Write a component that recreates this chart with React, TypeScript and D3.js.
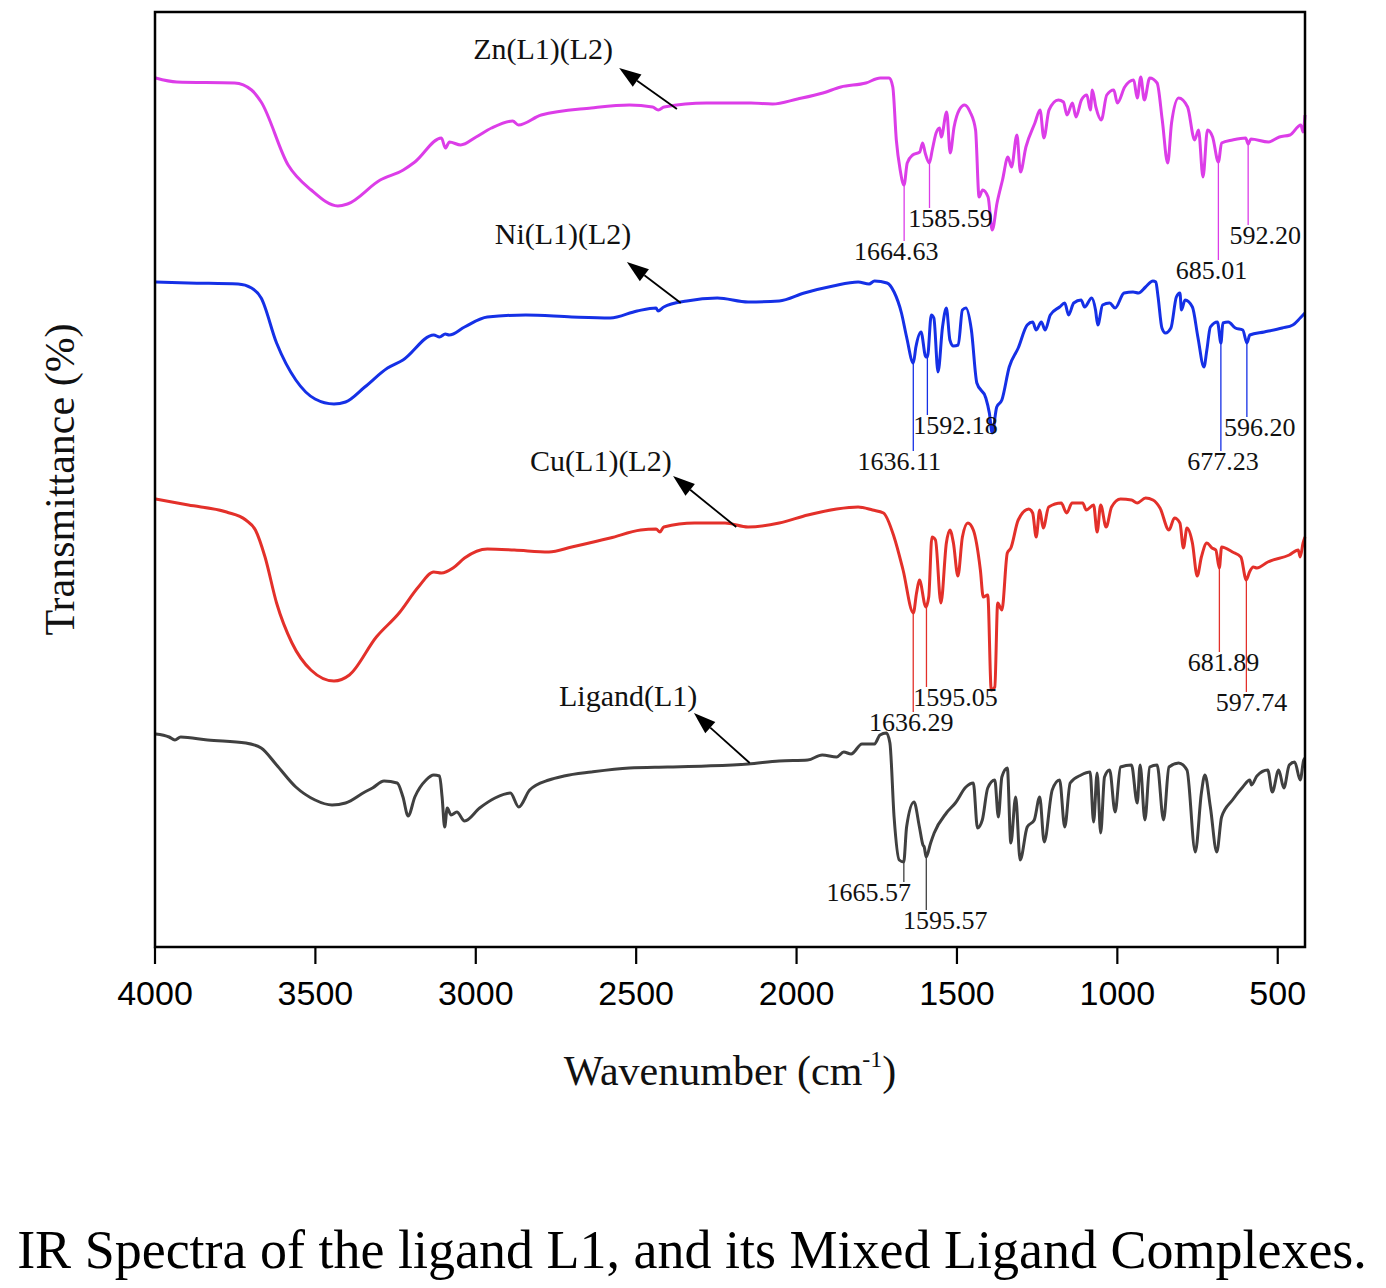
import React, { useEffect } from "react";
import * as d3 from "d3";

// ---- Data (wavenumber cm-1, transmittance in offset arbitrary % units) ----
const znSpectrum: [number, number][] = [[3998,86.9],[3932,86.5],[3752,86.4],[3699,85.7],[3669,84.5],[3585,78.2],[3513,75.7],[3430,74.1],[3400,74.3],[3298,76.7],[3226,77.7],[3190,78.5],[3107,80.9],[3095,79.9],[3082,80.5],[3047,80.2],[2999,81.0],[2951,81.9],[2885,82.6],[2867,82.2],[2796,83.2],[2640,83.9],[2521,84.2],[2449,84.0],[2431,83.7],[2413,84.0],[2281,84.4],[2142,84.4],[2075,84.3],[1997,84.8],[1918,85.4],[1862,86.0],[1784,86.4],[1739,86.9],[1711,86.9],[1700,86.0],[1689,80.7],[1677,77.7],[1665,76.2],[1655,78.4],[1638,79.2],[1616,79.5],[1607,80.4],[1599,79.4],[1586,78.4],[1577,79.7],[1565,81.4],[1554,81.9],[1549,81.0],[1532,83.5],[1521,79.4],[1509,82.0],[1493,83.7],[1476,84.2],[1459,83.5],[1442,81.7],[1431,75.0],[1420,75.7],[1403,75.0],[1390,71.7],[1375,74.4],[1358,76.7],[1341,79.0],[1330,78.0],[1313,81.2],[1302,77.5],[1285,80.0],[1257,82.4],[1241,83.7],[1229,80.9],[1213,83.7],[1184,84.7],[1168,84.5],[1157,83.2],[1140,84.4],[1129,83.0],[1112,84.7],[1095,85.2],[1084,83.7],[1078,85.7],[1067,84.0],[1050,82.7],[1033,85.2],[1011,85.7],[1000,84.4],[977,86.0],[949,86.7],[938,84.9],[927,87.0],[916,84.7],[899,86.9],[876,86.4],[860,82.7],[843,78.4],[831,82.4],[809,84.9],[781,84.0],[759,80.7],[747,81.7],[733,77.0],[719,81.7],[703,81.0],[685,78.5],[675,80.4],[641,80.7],[600,80.9],[592,80.3],[584,80.8],[529,80.5],[495,81.0],[462,81.2],[428,82.2],[421,81.5],[415,83.2]];

const niSpectrum: [number, number][] = [[3998,66.5],[3896,66.4],[3741,66.3],[3699,65.9],[3669,64.9],[3621,60.4],[3561,56.7],[3501,54.8],[3442,54.3],[3406,54.5],[3346,56.0],[3275,57.9],[3227,58.7],[3131,61.2],[3113,61.0],[3095,61.3],[3083,61.2],[3035,62.0],[2964,63.0],[2844,63.2],[2701,63.0],[2581,62.9],[2497,63.6],[2438,63.9],[2432,63.6],[2414,64.0],[2342,64.6],[2247,64.9],[2151,64.5],[2054,64.6],[1976,65.4],[1886,66.1],[1808,66.5],[1774,66.3],[1757,66.6],[1718,66.4],[1696,65.5],[1673,63.4],[1657,61.0],[1636,58.4],[1628,60.0],[1612,61.5],[1597,59.0],[1592,59.0],[1580,63.2],[1572,62.9],[1559,57.5],[1545,62.0],[1533,63.9],[1522,60.7],[1511,60.1],[1496,60.2],[1483,63.7],[1472,63.9],[1455,61.7],[1438,56.4],[1410,54.9],[1399,53.4],[1390,51.4],[1376,54.0],[1360,54.7],[1337,58.0],[1309,59.9],[1281,62.2],[1264,62.5],[1253,61.7],[1237,62.5],[1225,61.7],[1209,63.2],[1180,64.0],[1164,64.4],[1152,63.2],[1136,64.4],[1113,64.7],[1102,64.0],[1080,64.9],[1068,63.7],[1061,62.2],[1046,64.2],[1024,64.4],[1007,63.9],[979,65.4],[951,65.5],[934,65.4],[912,66.0],[889,66.6],[880,66.5],[873,65.0],[861,61.9],[850,61.4],[833,61.9],[816,65.0],[805,65.4],[800,63.7],[789,64.7],[766,64.0],[749,61.0],[730,58.0],[721,59.7],[710,62.0],[688,62.5],[677,60.4],[671,62.4],[654,62.5],[632,61.9],[609,61.7],[596,60.4],[587,61.2],[542,61.5],[486,61.9],[453,62.2],[430,62.9],[415,63.4]];

const cuSpectrum: [number, number][] = [[3998,44.8],[3896,44.2],[3777,43.5],[3717,42.7],[3687,41.7],[3657,39.0],[3621,34.4],[3573,30.4],[3514,27.7],[3442,26.6],[3394,27.2],[3310,31.0],[3239,33.4],[3179,36.0],[3131,37.5],[3107,37.4],[3071,37.9],[3035,38.9],[2964,39.8],[2880,39.7],[2772,39.5],[2701,40.0],[2581,40.9],[2486,41.7],[2438,41.8],[2426,41.5],[2414,42.0],[2318,42.4],[2223,42.4],[2151,42.0],[2054,42.4],[1965,43.2],[1875,43.8],[1808,44.0],[1763,43.7],[1729,43.4],[1696,41.0],[1668,37.7],[1636,33.4],[1626,35.4],[1617,36.7],[1597,34.0],[1588,35.0],[1578,41.0],[1567,40.7],[1550,34.4],[1533,40.4],[1522,41.7],[1511,40.4],[1497,37.1],[1483,41.0],[1466,42.4],[1449,41.7],[1427,37.7],[1418,35.0],[1404,35.2],[1393,25.7],[1382,26.0],[1373,34.4],[1360,33.7],[1343,39.4],[1332,39.9],[1309,42.7],[1276,43.8],[1264,43.4],[1253,41.0],[1242,43.7],[1231,41.9],[1214,44.0],[1175,44.4],[1158,43.4],[1141,44.4],[1108,44.4],[1097,43.7],[1074,44.2],[1063,41.5],[1052,44.2],[1035,42.0],[1018,44.0],[990,44.8],[956,44.7],[938,44.4],[912,44.9],[889,44.7],[867,43.9],[839,41.7],[822,42.9],[805,42.4],[794,39.9],[783,41.9],[766,40.4],[751,37.1],[738,39.0],[721,40.4],[705,39.9],[693,39.7],[682,37.9],[675,40.0],[641,39.5],[615,39.0],[598,36.7],[588,37.5],[576,38.0],[565,37.9],[531,38.5],[464,39.2],[436,39.7],[430,39.0],[421,40.4],[415,41.0]];

const ligandSpectrum: [number, number][] = [[3998,21.3],[3956,21.0],[3938,20.7],[3920,21.0],[3836,20.7],[3717,20.4],[3669,19.9],[3621,18.2],[3561,16.0],[3501,14.7],[3448,14.2],[3406,14.4],[3346,15.5],[3322,15.9],[3286,16.6],[3245,16.4],[3227,15.0],[3211,13.1],[3190,15.0],[3155,16.7],[3131,17.2],[3113,17.1],[3105,15.0],[3097,12.0],[3089,13.9],[3077,13.2],[3059,13.5],[3035,12.6],[2988,13.9],[2940,14.9],[2892,15.4],[2866,14.0],[2832,15.7],[2772,16.7],[2725,17.1],[2640,17.5],[2521,17.9],[2402,18.0],[2282,18.1],[2151,18.3],[2054,18.6],[1965,18.7],[1920,19.2],[1875,19.0],[1853,19.5],[1830,19.3],[1796,20.3],[1757,20.3],[1740,21.2],[1720,21.4],[1709,20.4],[1696,13.0],[1680,8.7],[1666,8.5],[1657,12.0],[1634,14.5],[1617,12.0],[1606,10.2],[1602,10.0],[1596,9.0],[1582,10.4],[1571,11.4],[1533,13.4],[1505,14.4],[1472,16.0],[1449,16.4],[1436,11.9],[1421,12.7],[1404,15.9],[1382,16.7],[1371,13.0],[1360,17.0],[1343,17.9],[1332,10.4],[1317,15.0],[1303,8.7],[1281,12.0],[1259,12.7],[1242,15.0],[1228,10.5],[1203,15.7],[1180,16.7],[1164,12.0],[1147,16.4],[1113,17.2],[1085,17.5],[1074,12.5],[1063,17.4],[1052,11.4],[1040,17.0],[1024,17.7],[1007,13.5],[990,18.0],[956,18.2],[938,14.4],[929,18.2],[914,12.7],[899,18.0],[876,18.2],[856,12.7],[839,18.0],[809,18.4],[783,17.7],[757,9.5],[738,15.4],[727,17.2],[710,14.0],[690,9.5],[675,13.0],[641,14.7],[609,16.0],[587,16.7],[582,16.2],[565,17.1],[531,17.7],[517,15.5],[497,17.7],[481,15.9],[464,18.2],[447,18.5],[430,16.7],[419,18.7],[415,18.9]];

// peak annotations: wavenumber, line end (transmittance), label shift
const znPeaks: [number, number, number][] = [[1664.63, 70.6, -8], [1585.59, 73.9, 21], [685.01, 68.7, -7], [592.20, 72.2, 17]];
const niPeaks: [number, number, number][] = [[1636.11, 49.6, -14], [1592.18, 53.2, 28], [677.23, 49.6, 2], [596.20, 53.0, 13]];
const cuPeaks: [number, number, number][] = [[1636.29, 23.5, -2], [1595.05, 26.0, 29], [681.89, 29.5, 4], [597.74, 25.5, 5]];
const ligandPeaks: [number, number, number][] = [[1665.57, 6.5, -35], [1595.57, 3.7, 19]];

const seriesNames = ["Zn(L1)(L2)", "Ni(L1)(L2)", "Cu(L1)(L2)", "Ligand(L1)"];
const seriesColors = ["#dc3de8", "#1530e6", "#e3302a", "#404040"];
// label anchor [wn, T], arrow tail [wn, T], arrow tip [wn, T]
const labelAnchors: [number, number][] = [[2790, 88.8], [2728, 70.3], [2610, 47.6], [2525, 24.1]];
const arrowTails: [number, number][] = [[2373, 83.8], [2361, 64.4], [2188, 42.0], [2146, 18.4]];
const arrowTips: [number, number][] = [[2553, 87.9], [2529, 68.5], [2385, 47.1], [2320, 23.4]];

const xTicks = [4000, 3500, 3000, 2500, 2000, 1500, 1000, 500];

const W = 1386, H = 1288;
const L = 155, R = 1305, T = 12, B = 947;

export default function App() {
  useEffect(() => { document.body.style.margin = "0"; }, []);
  const x = d3.scaleLinear().domain([4000, 415]).range([L, R]);
  const y = d3.scaleLinear().domain([0, 93.5]).range([B, T]);
  const line = d3.line<[number, number]>().x(d => x(d[0])).y(d => y(d[1])).curve(d3.curveMonotoneX);

  const spectra = [znSpectrum, niSpectrum, cuSpectrum, ligandSpectrum];
  const peaks = [znPeaks, niPeaks, cuPeaks, ligandPeaks];

  const valueAt = (data: [number, number][], wn: number) => {
    for (let i = 0; i < data.length - 1; i++) {
      const [w0, t0] = data[i], [w1, t1] = data[i + 1];
      if (wn <= w0 && wn >= w1) {
        const f = (w0 - wn) / (w0 - w1 || 1);
        return t0 + f * (t1 - t0);
      }
    }
    return data[data.length - 1][1];
  };

  const serif = "'Liberation Serif', 'Times New Roman', serif";
  const sans = "'Liberation Sans', Arial, sans-serif";

  return (
    <svg width={W} height={H} style={{ display: "block", background: "#fff" }}>
      {spectra.map((s, i) => (
        <path key={"s" + i} d={line(s) || ""} fill="none" stroke={seriesColors[i]} strokeWidth={3} strokeLinejoin="round" />
      ))}
      {peaks.map((pk, i) => pk.map(([wn, end, dx], j) => {
        const px = x(wn);
        const y0 = y(valueAt(spectra[i], wn));
        const y1 = y(end);
        return (
          <g key={"p" + i + "-" + j}>
            <line x1={px} x2={px} y1={y0} y2={y1} stroke={seriesColors[i]} strokeWidth={1.3} />
            <text x={px + dx} y={y1 + 19} textAnchor="middle" fontFamily={serif} fontSize={26} fill="#111">{wn.toFixed(2)}</text>
          </g>
        );
      }))}
      {seriesNames.map((n, i) => {
        const [tw, tt] = arrowTails[i];
        const [hw, ht] = arrowTips[i];
        const x1 = x(tw), y1 = y(tt), x2 = x(hw), y2 = y(ht);
        const ang = Math.atan2(y2 - y1, x2 - x1);
        const len = 22, hw2 = 7.5;
        const bx = x2 - len * Math.cos(ang), by = y2 - len * Math.sin(ang);
        const p1 = [bx + hw2 * Math.sin(ang), by - hw2 * Math.cos(ang)];
        const p2 = [bx - hw2 * Math.sin(ang), by + hw2 * Math.cos(ang)];
        return (
          <g key={"a" + i}>
            <line x1={x1} y1={y1} x2={bx} y2={by} stroke="#000" strokeWidth={1.8} />
            <polygon points={`${x2},${y2} ${p1[0]},${p1[1]} ${p2[0]},${p2[1]}`} fill="#000" />
            <text x={x(labelAnchors[i][0])} y={y(labelAnchors[i][1])} textAnchor="middle" fontFamily={serif} fontSize={30} fill="#111">{n}</text>
          </g>
        );
      })}
      <rect x={L} y={T} width={R - L} height={B - T} fill="none" stroke="#000" strokeWidth={2.5} />
      {xTicks.map(t => (
        <g key={"t" + t}>
          <line x1={x(t)} x2={x(t)} y1={B} y2={B + 17} stroke="#000" strokeWidth={2.2} />
          <text x={x(t)} y={B + 58} textAnchor="middle" fontFamily={sans} fontSize={34} fill="#000">{t}</text>
        </g>
      ))}
      <text x={730} y={1085} textAnchor="middle" fontFamily={serif} fontSize={42} fill="#111">
        Wavenumber (cm<tspan dy={-18} fontSize={24}>-1</tspan><tspan dy={18}>)</tspan>
      </text>
      <text transform={`translate(74, ${(T + B) / 2}) rotate(-90)`} textAnchor="middle" fontFamily={serif} fontSize={42} fill="#111">Transmittance (%)</text>
      <text x={692} y={1268} textAnchor="middle" fontFamily={serif} fontSize={54} fill="#000">IR Spectra of the ligand L1, and its Mixed Ligand Complexes.</text>
    </svg>
  );
}
